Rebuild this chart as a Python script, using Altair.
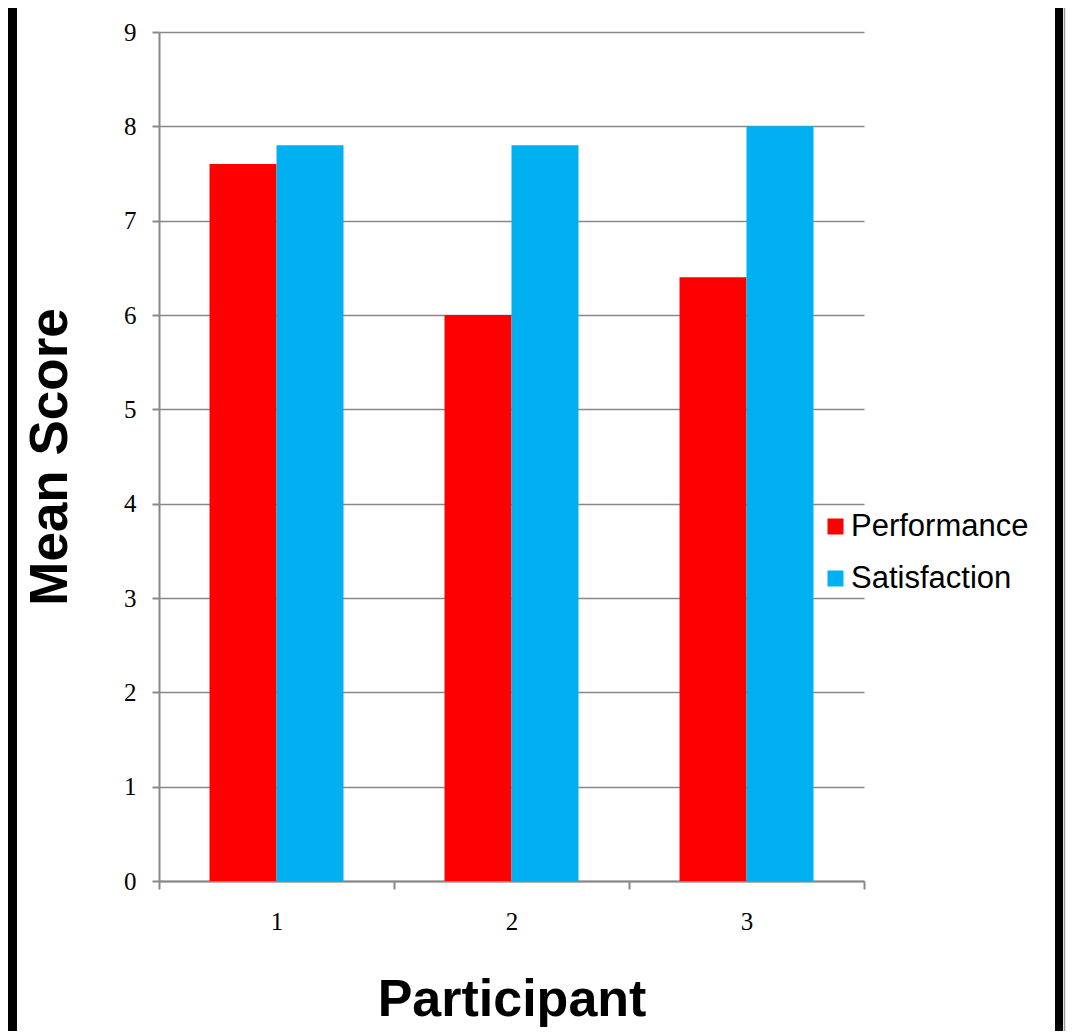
import altair as alt
import pandas as pd

participants = ["1", "2", "3"]
performance = [7.6, 6.0, 6.4]
satisfaction = [7.8, 7.8, 8.0]
series = ["Performance", "Satisfaction"]
colors = ["#FF0000", "#00B0F0"]
y_ticks = [0, 1, 2, 3, 4, 5, 6, 7, 8, 9]

rows = []
for i, p in enumerate(participants):
    rows.append({"Participant": p, "Series": series[0], "Score": performance[i]})
    rows.append({"Participant": p, "Series": series[1], "Score": satisfaction[i]})
df = pd.DataFrame(rows)

W, H = 705, 849
AX = "#888888"

bars = alt.Chart(df).mark_bar().encode(
    x=alt.X("Participant:O",
            scale=alt.Scale(paddingInner=0, paddingOuter=0),
            axis=alt.Axis(title="Participant", labelAngle=0, tickBand="extent",
                          labelFont="Liberation Serif", labelFontSize=25, labelColor="black",
                          labelPadding=20, tickSize=8, tickColor=AX, tickWidth=2,
                          domainColor=AX, domainWidth=2, grid=False,
                          titleFont="Liberation Sans", titleFontSize=52, titleFontWeight="bold",
                          titleColor="black", titleX=W / 2, titleY=134,
                          titleBaseline="alphabetic")),
    xOffset=alt.XOffset("Series:N", scale=alt.Scale(paddingInner=0, paddingOuter=0.754)),
    y=alt.Y("Score:Q", scale=alt.Scale(domain=[0, 9], nice=False),
            axis=alt.Axis(title="Mean Score", values=y_ticks,
                          labelFont="Liberation Serif", labelFontSize=25, labelColor="black",
                          labelPadding=16, tickSize=7, tickColor=AX, tickWidth=2,
                          domainColor=AX, domainWidth=2,
                          grid=True, gridColor=AX, gridWidth=1.5,
                          titleFont="Liberation Sans", titleFontSize=53, titleFontWeight="bold",
                          titleColor="black", titleAngle=-90, titleX=-93, titleY=H / 2,
                          titleAlign="center", titleBaseline="alphabetic")),
    color=alt.Color("Series:N", scale=alt.Scale(domain=series, range=colors),
                    legend=alt.Legend(title=None, orient="none", legendX=661, legendY=479,
                                      symbolType="square", symbolSize=256, symbolStrokeWidth=0,
                                      labelFont="Liberation Sans", labelFontSize=31,
                                      labelColor="black", labelOffset=0, labelLimit=400,
                                      rowPadding=20, padding=0)),
)

frame = pd.DataFrame({"k": [0]})
left_bar = alt.Chart(frame).mark_rule(color="black", strokeWidth=10).encode(
    x=alt.value(-147), y=alt.value(-40), y2=alt.value(1100))
right_bar = alt.Chart(frame).mark_rule(color="black", strokeWidth=8).encode(
    x=alt.value(900), y=alt.value(-40), y2=alt.value(1100))
right_thin = alt.Chart(frame).mark_rule(color="#999999", strokeWidth=1.5).encode(
    x=alt.value(905.5), y=alt.value(-40), y2=alt.value(1100))

chart = alt.layer(bars, left_bar, right_bar, right_thin).properties(
    width=W, height=H,
    padding={"left": 151, "top": 24, "right": 210, "bottom": 150},
    autosize=alt.AutoSizeParams(type="none"),
    background="white",
).configure_view(stroke=None)

chart.save("out.html", embed_options={"renderer": "svg", "actions": False})
